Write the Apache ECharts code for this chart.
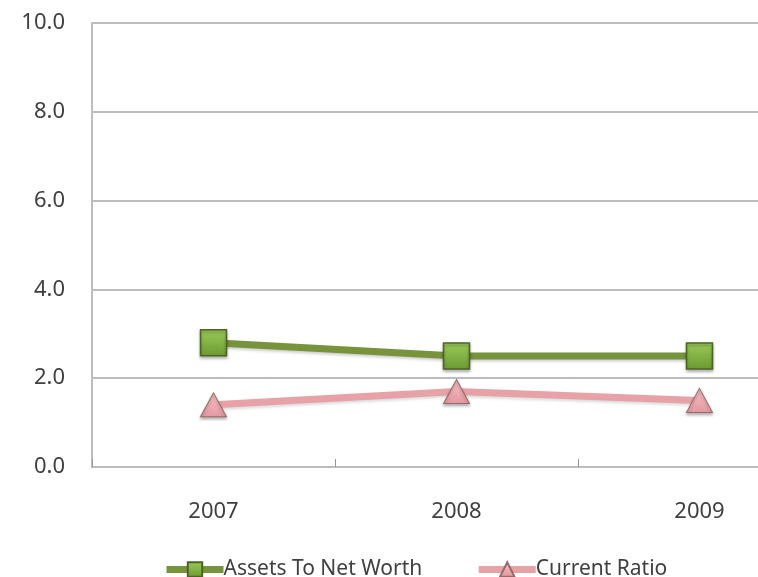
<!DOCTYPE html>
<html>
<head>
<meta charset="utf-8">
<style>html,body{margin:0;padding:0;background:#fff;}#c{width:758px;height:577px;}</style>
<script src="https://cdn.jsdelivr.net/npm/echarts@6/dist/echarts.min.js"></script>
</head>
<body>
<div id="c"></div>
<script>
var categories = ['2007', '2008', '2009'];
var assetsToNetWorth = [2.8, 2.5, 2.5];
var currentRatio = [1.4, 1.7, 1.5];
var seriesNames = ['Assets To Net Worth', 'Current Ratio'];

var chart = echarts.init(document.getElementById('c'), null, {renderer: 'canvas'});
var font = 'Noto Sans';
chart.setOption({
  animation: false,
  backgroundColor: '#fff',
  grid: {left: 92, width: 729, top: 23, height: 444, containLabel: false, outerBoundsMode: 'none'},
  legend: {
    left: 158, top: 554, itemWidth: 57, itemHeight: 18, itemGap: 53,
    lineStyle: {width: 7},
    textStyle: {fontFamily: font, fontSize: 21, color: '#404040', padding: [0, 0, 0, -5]},
    data: seriesNames
  },
  xAxis: {
    type: 'category', data: categories, boundaryGap: true,
    axisLine: {lineStyle: {color: '#bdbdbd', width: 2}},
    axisTick: {show: true, inside: true, length: 8, lineStyle: {color: '#999', width: 1}},
    axisLabel: {fontFamily: font, fontSize: 22, color: '#404040', margin: 34}
  },
  yAxis: {
    type: 'value', min: 0, max: 10, interval: 2,
    axisLine: {show: true, lineStyle: {color: '#bdbdbd', width: 2}},
    axisTick: {show: false},
    axisLabel: {fontFamily: font, fontSize: 22, color: '#404040', margin: 27,
      formatter: function (v) { return v.toFixed(1); }},
    splitLine: {lineStyle: {color: '#bdbdbd', width: 2}}
  },
  series: [
    {
      name: seriesNames[0], type: 'line', data: assetsToNetWorth,
      symbol: 'rect', symbolSize: 26,
      lineStyle: {color: '#77933C', width: 7, shadowColor: 'rgba(0,0,0,0.2)', shadowBlur: 3, shadowOffsetY: 2},
      itemStyle: {
        color: new echarts.graphic.LinearGradient(0, 0, 0, 1, [
          {offset: 0, color: '#9BCB5A'}, {offset: 1, color: '#6A9A30'}]),
        borderColor: '#4F6228', borderWidth: 1.5,
        shadowColor: 'rgba(0,0,0,0.3)', shadowBlur: 3, shadowOffsetY: 2
      }
    },
    {
      name: seriesNames[1], type: 'line', data: currentRatio,
      symbol: 'triangle', symbolSize: [26, 24],
      lineStyle: {color: '#E6A2A6', width: 7, shadowColor: 'rgba(0,0,0,0.15)', shadowBlur: 3, shadowOffsetY: 2},
      itemStyle: {
        color: new echarts.graphic.LinearGradient(0, 0, 0, 1, [
          {offset: 0, color: '#F7C0C4'}, {offset: 1, color: '#E398A0'}]),
        borderColor: '#9A6A6A', borderWidth: 1,
        shadowColor: 'rgba(0,0,0,0.3)', shadowBlur: 3, shadowOffsetY: 2
      }
    }
  ]
});
</script>
</body>
</html>
